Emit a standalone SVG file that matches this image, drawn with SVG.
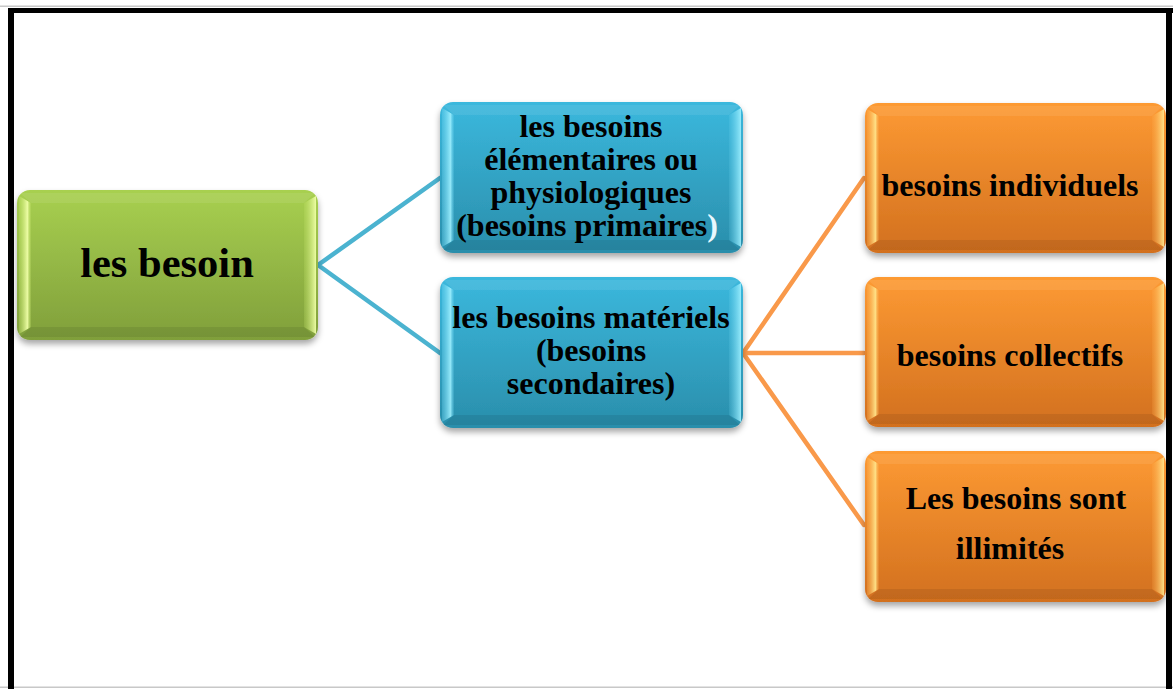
<svg xmlns="http://www.w3.org/2000/svg" width="1173" height="689" viewBox="0 0 1173 689">
<style>
.t{font-family:"Liberation Serif","Times New Roman",serif;font-weight:bold;fill:#000;text-anchor:middle}
.big{font-size:42.5px}
.mid{font-size:32px}
.conB{stroke:#4bb3d0;stroke-width:4.5;fill:none;stroke-linecap:round}
.conO{stroke:#f9994a;stroke-width:4.5;fill:none;stroke-linecap:round}
.topb{fill:#fff;opacity:0.08}
.botb{fill:#000;opacity:0.08}
</style>
<defs>
<filter id="sh" x="-10%" y="-10%" width="120%" height="130%">
<feDropShadow dx="0" dy="4" stdDeviation="3" flood-color="#000" flood-opacity="0.35"/>
</filter>
<linearGradient id="gG" x1="0" y1="0" x2="0" y2="1">
<stop offset="0" stop-color="#a8d050"/><stop offset="1" stop-color="#809f3b"/>
</linearGradient>
<linearGradient id="gB" x1="0" y1="0" x2="0" y2="1">
<stop offset="0" stop-color="#3bb8dd"/><stop offset="1" stop-color="#2a8eab"/>
</linearGradient>
<linearGradient id="gO" x1="0" y1="0" x2="0" y2="1">
<stop offset="0" stop-color="#fd9a33"/><stop offset="1" stop-color="#d2701f"/>
</linearGradient>
<linearGradient id="hG" x1="0" y1="0" x2="1" y2="0">
<stop offset="0" stop-color="#c4e46a" stop-opacity="0.3"/><stop offset="0.7" stop-color="#f0ffa8" stop-opacity="0.95"/><stop offset="1" stop-color="#c4e46a" stop-opacity="0.2"/>
</linearGradient>
<linearGradient id="hGr" x1="1" y1="0" x2="0" y2="0">
<stop offset="0" stop-color="#f0ffa8" stop-opacity="0.95"/><stop offset="1" stop-color="#c4e46a" stop-opacity="0.2"/>
</linearGradient>
<linearGradient id="hB" x1="0" y1="0" x2="1" y2="0">
<stop offset="0" stop-color="#6fd6f2" stop-opacity="0.3"/><stop offset="0.7" stop-color="#9ff0ff" stop-opacity="0.9"/><stop offset="1" stop-color="#6fd6f2" stop-opacity="0.15"/>
</linearGradient>
<linearGradient id="hBr" x1="1" y1="0" x2="0" y2="0">
<stop offset="0" stop-color="#9ff0ff" stop-opacity="0.9"/><stop offset="1" stop-color="#6fd6f2" stop-opacity="0.15"/>
</linearGradient>
<linearGradient id="hO" x1="0" y1="0" x2="1" y2="0">
<stop offset="0" stop-color="#ffb050" stop-opacity="0.3"/><stop offset="0.7" stop-color="#ffe48a" stop-opacity="0.95"/><stop offset="1" stop-color="#ffb050" stop-opacity="0.15"/>
</linearGradient>
<linearGradient id="hOr" x1="1" y1="0" x2="0" y2="0">
<stop offset="0" stop-color="#ffe48a" stop-opacity="0.95"/><stop offset="1" stop-color="#ffb050" stop-opacity="0.15"/>
</linearGradient>
</defs>

<g id="frame">
<rect x="0" y="5.5" width="1173" height="1.5" fill="#c8c8c8"/>
<rect x="0" y="686.5" width="1173" height="1.5" fill="#c8c8c8"/>
<rect x="8" y="8" width="1165" height="5" fill="#000"/>
<rect x="8" y="8" width="6" height="681" fill="#000"/>
<rect x="1166" y="8" width="6" height="681" fill="#000"/>
</g>

<g id="connectors">
<path class="conB" d="M318 265 L440 178 M318 265 L440 353"/>
<path class="conO" d="M743 353 L864 178 M743 353 L864 353 M743 353 L864 525"/>
</g>

<g id="n-root">
<rect x="17" y="190" width="301" height="150" rx="13" fill="url(#gG)" filter="url(#sh)"/>
<path class="topb" d="M20 193 L315 193 L304 203 L31 203 Z"/>
<path class="botb" d="M20 337 L315 337 L304 327 L31 327 Z"/>
<path d="M19 196 L31 203 L31 327 L19 334 Z" fill="url(#hG)"/>
<path d="M316 196 L304 203 L304 327 L316 334 Z" fill="url(#hGr)"/>
<text class="t big" x="167" y="277">les besoin</text>
</g>

<g id="n-elem">
<rect x="440" y="102" width="303" height="151" rx="13" fill="url(#gB)" filter="url(#sh)"/>
<path class="topb" d="M443 105 L740 105 L729 115 L454 115 Z"/>
<path class="botb" d="M443 250 L740 250 L729 240 L454 240 Z"/>
<path d="M442 108 L454 115 L454 240 L442 247 Z" fill="url(#hB)"/>
<path d="M741 108 L729 115 L729 240 L741 247 Z" fill="url(#hBr)"/>
<text class="t mid" x="591" y="137">les besoins</text>
<text class="t mid" x="591" y="170">élémentaires ou</text>
<text class="t mid" x="591" y="203">physiologiques</text>
<text class="t mid" x="587" y="236">(besoins primaires<tspan fill="#e8f8ff">)</tspan></text>
</g>

<g id="n-mat">
<rect x="440" y="277" width="303" height="151" rx="13" fill="url(#gB)" filter="url(#sh)"/>
<path class="topb" d="M443 280 L740 280 L729 290 L454 290 Z"/>
<path class="botb" d="M443 425 L740 425 L729 415 L454 415 Z"/>
<path d="M442 283 L454 290 L454 415 L442 422 Z" fill="url(#hB)"/>
<path d="M741 283 L729 290 L729 415 L741 422 Z" fill="url(#hBr)"/>
<text class="t mid" x="591" y="328">les besoins matériels</text>
<text class="t mid" x="591" y="361">(besoins</text>
<text class="t mid" x="591" y="394">secondaires)</text>
</g>

<g id="n-indiv">
<rect x="865" y="103" width="301" height="150" rx="13" fill="url(#gO)" filter="url(#sh)"/>
<path class="topb" d="M868 106 L1163 106 L1152 116 L879 116 Z"/>
<path class="botb" d="M868 250 L1163 250 L1152 240 L879 240 Z"/>
<path d="M867 109 L879 116 L879 240 L867 247 Z" fill="url(#hO)"/>
<path d="M1164 109 L1152 116 L1152 240 L1164 247 Z" fill="url(#hOr)"/>
<text class="t mid" x="1010" y="196">besoins individuels</text>
</g>

<g id="n-coll">
<rect x="865" y="277" width="301" height="150" rx="13" fill="url(#gO)" filter="url(#sh)"/>
<path class="topb" d="M868 280 L1163 280 L1152 290 L879 290 Z"/>
<path class="botb" d="M868 424 L1163 424 L1152 414 L879 414 Z"/>
<path d="M867 283 L879 290 L879 414 L867 421 Z" fill="url(#hO)"/>
<path d="M1164 283 L1152 290 L1152 414 L1164 421 Z" fill="url(#hOr)"/>
<text class="t mid" x="1010" y="366">besoins collectifs</text>
</g>

<g id="n-illim">
<rect x="865" y="451" width="301" height="151" rx="13" fill="url(#gO)" filter="url(#sh)"/>
<path class="topb" d="M868 454 L1163 454 L1152 464 L879 464 Z"/>
<path class="botb" d="M868 599 L1163 599 L1152 589 L879 589 Z"/>
<path d="M867 457 L879 464 L879 589 L867 596 Z" fill="url(#hO)"/>
<path d="M1164 457 L1152 464 L1152 589 L1164 596 Z" fill="url(#hOr)"/>
<text class="t mid" x="1016" y="509">Les besoins sont</text>
<text class="t mid" x="1010" y="559">illimités</text>
</g>
</svg>
